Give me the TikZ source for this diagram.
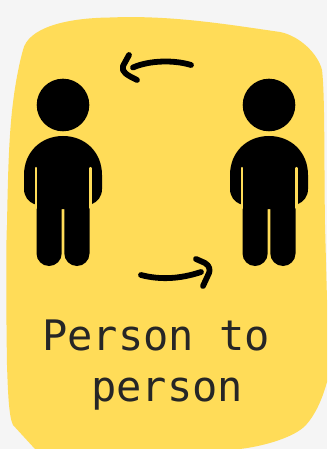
\documentclass[tikz,border=0pt]{standalone}
\usepackage{fontspec}
\setmonofont{DejaVu Sans Mono}
\definecolor{bgc}{HTML}{F5F5F5}
\definecolor{blobc}{HTML}{FFDC58}
\definecolor{inkc}{HTML}{262626}
\tikzset{
  arrowline/.style={line width=5.8pt,line cap=round,line join=round,draw=black},
  gapline/.style={line width=2.2pt,line cap=round,draw=blobc},
  caption/.style={inner sep=0pt,anchor=base west,text=inkc,font=\ttfamily\fontsize{42}{42}\selectfont},
  personfig/.pic={
    \fill[black] (0,0) circle (26.3);
    \fill[black] (0,31)
      .. controls (22,31) and (39,47) .. (39,70)
      -- (39,84) .. controls (39,92) and (34,97) .. (29,99)
      -- (26.5,99) -- (26.5,148.5)
      .. controls (26.5,155.4) and (20.9,161) .. (14,161)
      .. controls (7.1,161) and (1.3,155.4) .. (1.3,148.5) -- (1.3,104) -- (-1.3,104) -- (-1.3,148.5)
      .. controls (-1.3,155.4) and (-7.1,161) .. (-14,161)
      .. controls (-20.9,161) and (-26.5,155.4) .. (-26.5,148.5)
      -- (-26.5,99) -- (-29,99)
      .. controls (-34,97) and (-39,92) .. (-39,84)
      -- (-39,70) .. controls (-39,47) and (-22,31) .. (0,31) -- cycle;
    \draw[gapline] (-27.4,63) -- (-27.4,103);
    \draw[gapline] (27.4,63) -- (27.4,103);
  }
}
\begin{document}
\begin{tikzpicture}[x=1pt,y=-1pt]
\useasboundingbox (0,0) rectangle (327,449);
\fill[bgc] (0,0) rectangle (327,449);
\fill[blobc] (23,50) .. controls (28,28) and (65,18) .. (110,17.5)
  .. controls (170,15) and (225,24) .. (280,32)
  .. controls (300,36) and (318,54) .. (322,70)
  .. controls (325,95) and (324,160) .. (325,225)
  -- (327,300) -- (327,382)
  .. controls (322,400) and (315,415) .. (306,425)
  .. controls (295,437) and (265,446) .. (240,449)
  -- (35,449) -- (13,425)
  .. controls (9,417) and (8,395) .. (7,365)
  .. controls (6,300) and (6,240) .. (7,225)
  .. controls (8,170) and (9,130) .. (14,95)
  .. controls (16,80) and (20,60) .. (23,50) -- cycle;
\pic at (63,105) {personfig};
\pic at (269,105) {personfig};
\draw[arrowline] (191,65) .. controls (175,60) and (150,60) .. (133,67.5);
\draw[arrowline] (129,55) -- (123,66) .. controls (121,72) and (127,75) .. (137,80);
\draw[arrowline] (141,275) .. controls (160,280) and (180,279) .. (201,272);
\draw[arrowline] (196,259) -- (205,263) .. controls (210,266) and (210,270) .. (209,273) -- (203,286);
\node[caption] (line1) at (42,350) {Person to};
\node[caption] (line2) at (91,401) {person};
\end{tikzpicture}
\end{document}
